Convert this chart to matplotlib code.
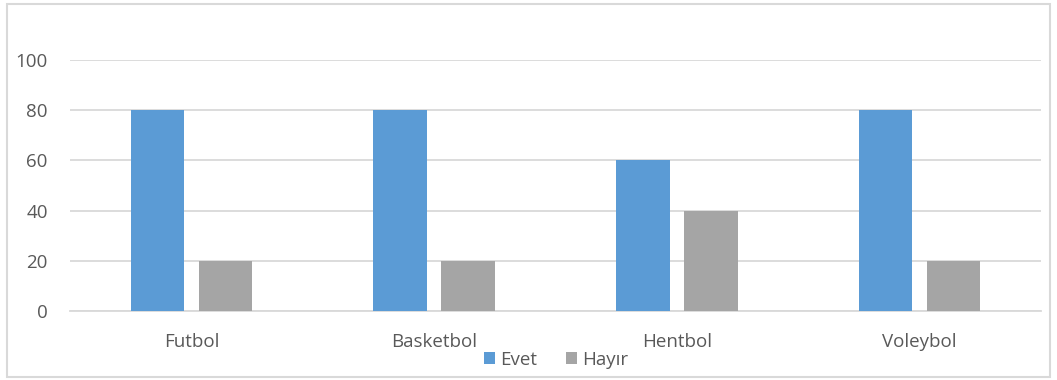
import matplotlib
matplotlib.use("Agg")
import matplotlib.pyplot as plt
import numpy as np
from matplotlib.patches import Rectangle

categories = ["Futbol", "Basketbol", "Hentbol", "Voleybol"]
evet = [80, 80, 60, 80]
hayir = [20, 20, 40, 20]
yticks = [0, 20, 40, 60, 80, 100]

plt.rcParams['font.family'] = ['Open Sans', 'DejaVu Sans']
text_color = "#595959"

fig = plt.figure(figsize=(10.57, 3.80), dpi=100)
ax = fig.add_axes([70/1057, 1-311/380, (1041-70)/1057, (311-60)/380])

x = np.arange(len(categories))
w = 0.22
b1 = ax.bar(x - 0.14, evet, w, color="#5B9BD5", label="Evet", zorder=3)
b2 = ax.bar(x + 0.14, hayir, w, color="#A5A5A5", label="Hayır", zorder=3)

ax.set_xlim(-0.5, len(categories) - 0.5)
ax.set_ylim(0, 100)
ax.set_yticks(yticks)
ax.set_xticks(x)
ax.set_xticklabels(categories)
ax.tick_params(axis='both', length=0, labelsize=13.5, colors=text_color)
ax.tick_params(axis='y', pad=16)
ax.tick_params(axis='x', pad=16)
ax.yaxis.grid(True, color="#D9D9D9", linewidth=1.3, zorder=0)
for s in ["top", "right", "left"]:
    ax.spines[s].set_visible(False)
ax.spines["bottom"].set_color("#D9D9D9")
ax.spines["bottom"].set_linewidth(1.3)

fig.legend(handles=[b1, b2], loc="center", bbox_to_anchor=(556/1057, 1-360/380),
           ncol=2, frameon=False, fontsize=13.5, handlelength=0.6, handleheight=0.6,
           handletextpad=0.3, columnspacing=1.5, labelcolor=text_color)

fig.patches.append(Rectangle((7/1057, 3/380), (1050-7)/1057, (376-3)/380,
                             transform=fig.transFigure, fill=False,
                             edgecolor="#D9D9D9", linewidth=1.5))

fig.savefig("out.png", dpi=100)
